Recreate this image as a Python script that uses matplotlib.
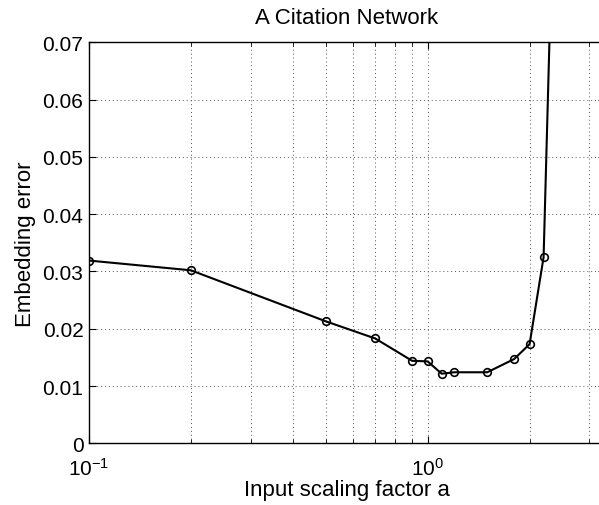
import matplotlib
matplotlib.use("Agg")
import matplotlib.pyplot as plt
from matplotlib.ticker import LogLocator, NullFormatter

plt.rcParams['font.family'] = ['Liberation Sans', 'DejaVu Sans']
plt.rcParams['mathtext.fontset'] = 'custom'
plt.rcParams['mathtext.rm'] = 'Liberation Sans'
plt.rcParams['mathtext.it'] = 'Liberation Sans'

scale_a = [0.1, 0.2, 0.5, 0.7, 0.9, 1.0, 1.1, 1.2, 1.5, 1.8, 2.0, 2.2, 2.4]
embed_err = [0.0319, 0.0302, 0.0213, 0.0183, 0.0144, 0.0143, 0.01215, 0.0124,
             0.0124, 0.0147, 0.0173, 0.0325, 0.115]

title = "A Citation Network"
xlabel = "Input scaling factor a"
ylabel = "Embedding error"
yticks = [0, 0.01, 0.02, 0.03, 0.04, 0.05, 0.06, 0.07]
ytick_labels = ["0", "0.01", "0.02", "0.03", "0.04", "0.05", "0.06", "0.07"]

fig = plt.figure(figsize=(5.99, 5.06), dpi=100)
ax = fig.add_axes([89/599, (506-444.3)/506, (605-89)/599, (444.3-43.3)/506])

ax.plot(scale_a, embed_err, color='black', linewidth=1.5, marker='o',
        markersize=5.5, markerfacecolor='none', markeredgecolor='black',
        markeredgewidth=1.2, clip_on=True)

ax.set_xscale('log')
ax.set_xlim(0.1, 3.34)
ax.set_ylim(0, 0.07)
ax.set_yticks(yticks)
ax.set_yticklabels(ytick_labels)
ax.xaxis.set_major_locator(LogLocator(base=10, numticks=10))
ax.xaxis.set_minor_locator(LogLocator(base=10, subs=range(2, 10), numticks=10))
ax.xaxis.set_minor_formatter(NullFormatter())

ax.grid(True, which='major', linestyle=(0, (1, 3)), color='#555555', linewidth=0.7)
ax.grid(True, which='minor', axis='x', linestyle=(0, (1, 3)), color='#555555', linewidth=0.7)

ax.tick_params(which='both', direction='in', top=True, right=True, labelsize=15)
ax.tick_params(which='major', length=5)
ax.tick_params(which='minor', length=3)
ax.tick_params(axis='x', pad=10)
ax.tick_params(axis='y', pad=4)
for s in ax.spines.values():
    s.set_linewidth(1.0)

ax.set_title(title, fontsize=16, pad=14)
ax.set_xlabel(xlabel, fontsize=16, labelpad=0)
ax.set_ylabel(ylabel, fontsize=16, labelpad=5)

fig.savefig("out.png", dpi=100)
